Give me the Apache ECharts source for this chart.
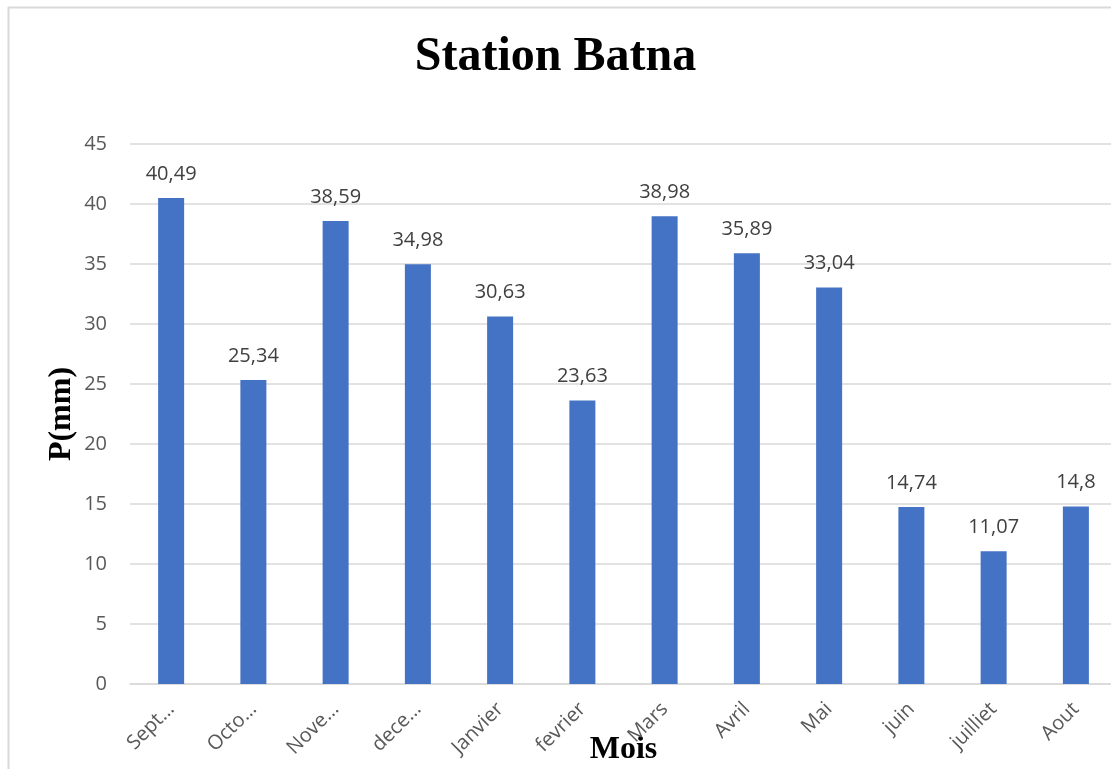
<!DOCTYPE html>
<html>
<head>
<meta charset="utf-8">
<script src="https://cdn.jsdelivr.net/npm/echarts@6/dist/echarts.min.js"></script>
<style>
html,body{margin:0;padding:0;background:#fff;overflow:hidden;}
#c{width:1111px;height:769px;}
</style>
</head>
<body>
<div id="c"></div>
<script>
const categories = ["Sept…","Octo…","Nove…","dece…","Janvier","fevrier","Mars","Avril","Mai","juin","juilliet","Aout"];
const values = [40.49,25.34,38.59,34.98,30.63,23.63,38.98,35.89,33.04,14.74,11.07,14.8];
const yTicks = {min:0, max:45, interval:5};

const chart = echarts.init(document.getElementById('c'));
chart.setOption({
  backgroundColor:'#fff',
  animation:false,
  title:{
    text:'Station Batna',
    left:'center', top:29,
    textStyle:{fontFamily:'Liberation Serif', fontWeight:'bold', fontSize:48, color:'#000'}
  },
  graphic:[{
    type:'rect', shape:{x:8.5,y:7.5,width:1130,height:800},
    style:{fill:'none', stroke:'#d9d9d9', lineWidth:2}, silent:true
  }],
  grid:{left:130, width:987, top:144, height:540, containLabel:false, outerBoundsMode:'none'},
  xAxis:{
    type:'category', data:categories,
    name:'Mois', nameLocation:'middle', nameGap:50, nameMoveOverlap:false,
    nameTextStyle:{fontFamily:'Liberation Serif', fontWeight:'bold', fontSize:32, color:'#000'},
    axisLine:{show:true, lineStyle:{color:'#d9d9d9', width:1.5}},
    axisTick:{show:false},
    axisLabel:{rotate:45, margin:22, fontFamily:'Open Sans', fontSize:20, color:'#595959', interval:0}
  },
  yAxis:{
    type:'value', min:yTicks.min, max:yTicks.max, interval:yTicks.interval,
    name:'P(mm)', nameLocation:'middle', nameGap:52, nameRotate:90, nameMoveOverlap:false,
    nameTextStyle:{fontFamily:'Liberation Serif', fontWeight:'bold', fontSize:32, color:'#000'},
    axisLine:{show:false}, axisTick:{show:false},
    axisLabel:{margin:23, fontFamily:'Open Sans', fontSize:20, color:'#595959'},
    splitLine:{lineStyle:{color:'#d9d9d9', width:1.5}}
  },
  series:[{
    type:'bar', data:values, barWidth:26,
    itemStyle:{color:'#4472C4'},
    label:{show:true, position:'top', distance:14, fontFamily:'Open Sans', fontSize:20, color:'#404040',
      formatter:p=>String(p.value).replace('.',',')}
  }]
});
</script>
</body>
</html>
